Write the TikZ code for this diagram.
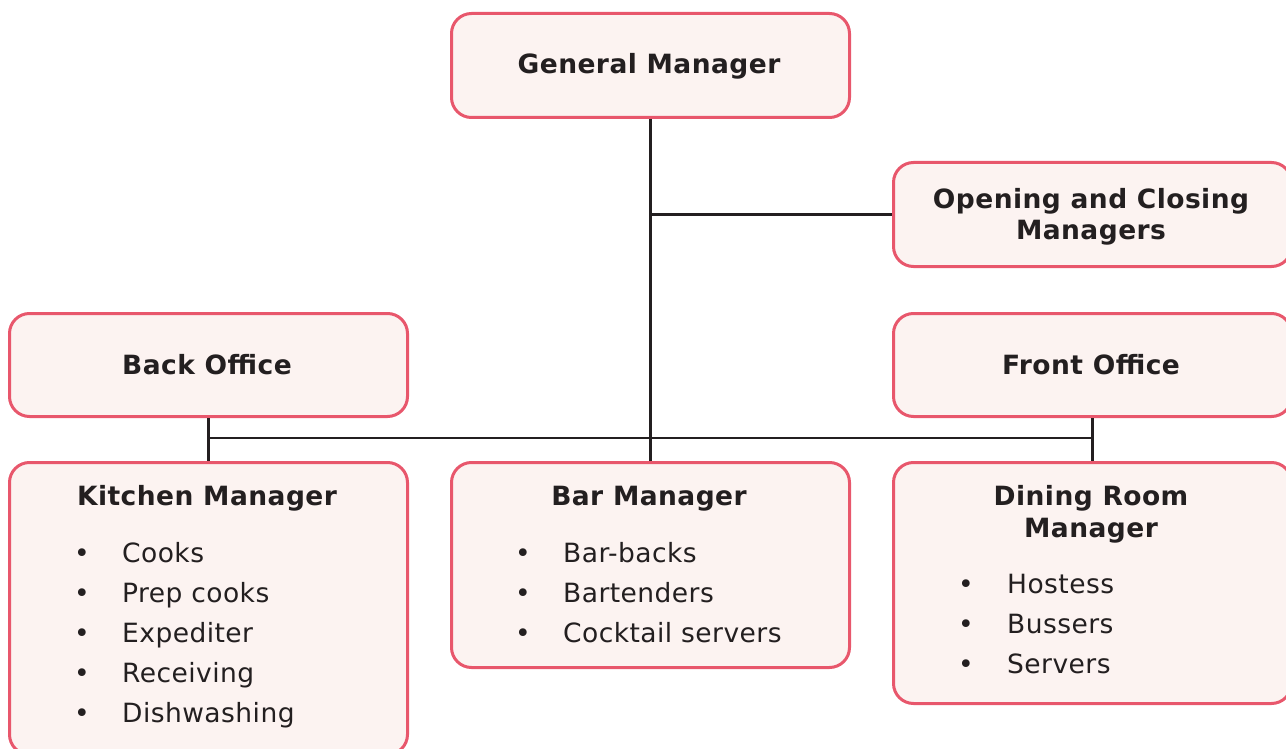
\documentclass[tikz,border=0pt]{standalone}
\usepackage{fontspec}
\setmainfont{DejaVu Sans}[LetterSpace=1.7]
\definecolor{boxedge}{HTML}{E8576C}
\definecolor{boxfill}{HTML}{FCF3F1}
\definecolor{ink}{HTML}{231F20}

\begin{document}
\begin{tikzpicture}[x=1pt,y=-1pt,
  box/.style={draw=boxedge, fill=boxfill, line width=3pt, rounded corners=20pt,
    minimum width=398pt, inner sep=0pt, anchor=north west},
  title/.style={anchor=base, inner sep=0pt, text=ink,
    font=\fontsize{26.5}{31}\selectfont\bfseries, align=center},
  item/.style={anchor=base west, inner sep=0pt, text=ink,
    font=\fontsize{26.5}{31}\selectfont},
  dot/.style={anchor=base, inner sep=0pt, text=ink,
    font=\fontsize{26.5}{31}\selectfont},
  conn/.style={draw=ink, line width=2.6pt}]

\useasboundingbox (0,0) rectangle (1286,749);
\clip (0,0) rectangle (1286,749);

% boxes
\node[box, minimum height=104pt] (gm) at (450,12) {};
\node[box, minimum height=104pt] (oc) at (892,161) {};
\node[box, minimum height=103pt] (bo) at (8,312) {};
\node[box, minimum height=103pt] (fo) at (892,312) {};
\node[box, minimum height=292pt] (km) at (8,461) {};
\node[box, minimum height=205pt] (bar) at (450,461) {};
\node[box, minimum height=241pt] (dr) at (892,461) {};

% connectors
\coordinate (hub) at (649,438);
\draw[conn] (gm.south) -- (bar.north);
\draw[conn] (gm.south |- oc.west) -- (oc.west);
\draw[conn] (bo.south |- hub) -- (fo.south |- hub);
\draw[conn] (bo.south) -- (km.north);
\draw[conn] (fo.south) -- (dr.north);

% single titles
\node[title] (gmt) at (649,74) {General Manager};
\node[title] (oct1) at (1091,208) {Opening and Closing};
\node[title] (oct2) at (1091,239) {Managers};
\node[title] (bot) at (207,374) {Back Office};
\node[title] (fot) at (1091,374) {Front Office};

% kitchen
\node[title] (kmt) at (207,505) {Kitchen Manager};
\foreach \i/\t in {0/Cooks,1/Prep cooks,2/Expediter,3/Receiving,4/Dishwashing}{
  \node[dot] (kd\i) at (82,562+40*\i) {•};
  \node[item] (ki\i) at (122,562+40*\i) {\t};
}

% bar
\node[title] (bart) at (649,505) {Bar Manager};
\foreach \i/\t in {0/Bar-backs,1/Bartenders,2/Cocktail servers}{
  \node[dot] (bd\i) at (523,562+40*\i) {•};
  \node[item] (bi\i) at (563,562+40*\i) {\t};
}

% dining room
\node[title] (drt1) at (1091,505) {Dining Room};
\node[title] (drt2) at (1091,537) {Manager};
\foreach \i/\t in {0/Hostess,1/Bussers,2/Servers}{
  \node[dot] (dd\i) at (966,593+40*\i) {•};
  \node[item] (di\i) at (1007,593+40*\i) {\t};
}
\end{tikzpicture}
\end{document}
